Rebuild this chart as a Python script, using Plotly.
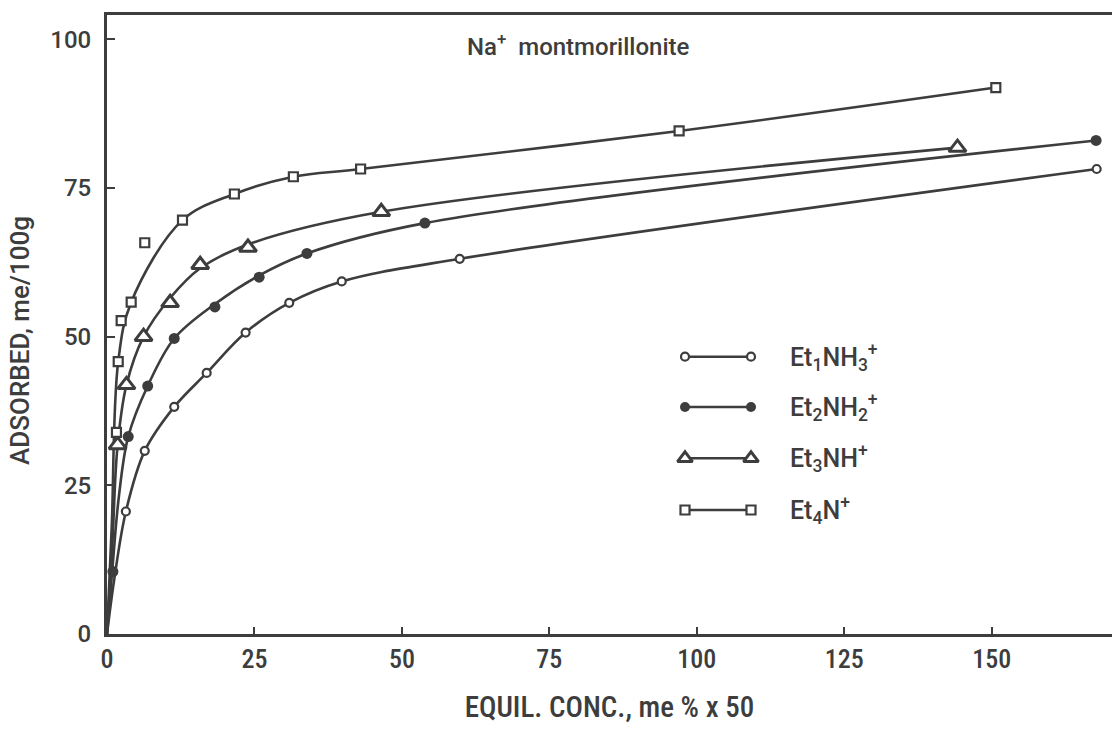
import plotly.graph_objects as go

# ---- data ----
et1_x = [3.2, 6.4, 11.4, 16.9, 23.5, 30.9, 39.8, 59.8, 167.8]
et1_y = [20.6, 30.8, 38.2, 43.9, 50.7, 55.7, 59.3, 63.1, 78.2]

et2_x = [1.0, 3.6, 6.9, 11.4, 18.3, 25.8, 33.9, 53.9, 167.7]
et2_y = [10.5, 33.2, 41.7, 49.7, 55.0, 60.0, 64.0, 69.1, 83.0]

et3_x = [1.8, 3.3, 6.2, 10.7, 15.8, 23.9, 46.5, 144.2]
et3_y = [31.8, 41.9, 50.0, 55.7, 62.1, 65.0, 71.0, 81.8]

et4_x = [1.6, 1.9, 2.4, 4.1, 6.4, 12.8, 21.6, 31.6, 43.0, 97.0, 150.7]
et4_y = [33.9, 45.8, 52.7, 55.8, 65.8, 69.6, 74.0, 76.9, 78.2, 84.6, 91.9]

# smooth hand-drawn curves (knots)
et1_cx = [0, 1.2, 3.2, 6.4, 11.4, 16.9, 23.5, 30.9, 39.8, 59.8, 167.8]
et1_cy = [0, 9.0, 20.6, 30.8, 38.2, 43.9, 50.7, 55.7, 59.3, 63.1, 78.2]
et2_cx = [0, 1.0, 2.0, 3.6, 6.9, 11.4, 18.3, 25.8, 33.9, 53.9, 167.7]
et2_cy = [0, 12.0, 23.0, 33.2, 41.7, 49.7, 55.5, 60.3, 64.0, 69.1, 83.0]
et3_cx = [0, 0.9, 1.8, 3.3, 6.2, 10.7, 15.8, 23.9, 46.5, 144.2]
et3_cy = [0, 15.0, 31.8, 41.9, 50.0, 56.5, 61.5, 65.5, 71.0, 81.8]
et4_cx = [0, 0.8, 1.9, 4.1, 12.8, 21.6, 31.6, 43.0, 97.0, 150.7]
et4_cy = [0, 18.0, 45.8, 55.8, 69.6, 74.0, 76.9, 78.2, 84.6, 91.9]

x_ticks = [0, 25, 50, 75, 100, 125, 150]
y_ticks = [0, 25, 50, 75, 100]

legend_labels = ["Et<sub>1</sub>NH<sub>3</sub><sup>+</sup>",
                 "Et<sub>2</sub>NH<sub>2</sub><sup>+</sup>",
                 "Et<sub>3</sub>NH<sup>+</sup>",
                 "Et<sub>4</sub>N<sup>+</sup>"]

INK = "#3d3d3d"
FONT = "Roboto, DejaVu Sans"
NARROW = "Roboto Condensed, DejaVu Sans Condensed, Liberation Sans Narrow, Roboto"

styles = [
    dict(symbol="circle-open", size=8, line=dict(width=2.2, color=INK), color=INK),
    dict(symbol="circle", size=11, line=dict(width=0, color=INK), color=INK),
    dict(symbol="triangle-up-open", size=15, line=dict(width=3, color=INK), color=INK),
    dict(symbol="square-open", size=9, line=dict(width=2.2, color=INK), color=INK),
]

series = [
    (et1_x, et1_y, et1_cx, et1_cy),
    (et2_x, et2_y, et2_cx, et2_cy),
    (et3_x, et3_y, et3_cx, et3_cy),
    (et4_x, et4_y, et4_cx, et4_cy),
]

fig = go.Figure()
for (mx, my, cx, cy), st in zip(series, styles):
    fig.add_trace(go.Scatter(x=cx, y=cy, mode="lines",
                             line=dict(color=INK, width=2.6, shape="spline", smoothing=1.0),
                             showlegend=False, hoverinfo="skip"))
for (mx, my, cx, cy), st in zip(series, styles):
    m = dict(st)
    if "open" in m["symbol"]:
        m["color"] = "white"
        m["symbol"] = m["symbol"].replace("-open", "")
    fig.add_trace(go.Scatter(x=mx, y=my, mode="markers", marker=m, showlegend=False))

# ---- legend drawn on an overlay axis in pixel units ----
leg_rows = [356.7, 407.0, 458.3, 510.0]
leg_x0, leg_x1, leg_tx = 685, 751, 788
for row, st, lab in zip(leg_rows, styles, legend_labels):
    m = dict(st)
    if "open" in m["symbol"]:
        m["color"] = "white"
        m["symbol"] = m["symbol"].replace("-open", "")
    if m["symbol"] == "triangle-up":
        m["size"] = 13
    if m["symbol"] == "circle" and st["size"] == 11:
        m["size"] = 10
    fig.add_trace(go.Scatter(x=[leg_x0, leg_x1], y=[row, row], mode="lines+markers",
                             line=dict(color=INK, width=2.4), marker=m,
                             xaxis="x2", yaxis="y2", showlegend=False, hoverinfo="skip"))
    fig.add_annotation(x=leg_tx, y=row, xref="x2", yref="y2", text=lab, showarrow=False,
                       xanchor="left", yanchor="middle",
                       font=dict(family=FONT, size=25, color=INK, weight=500))

fig.add_annotation(x=465, y=45, xref="x2", yref="y2",
                   text="Na<sup>+</sup>  montmorillonite", showarrow=False,
                   xanchor="left", yanchor="middle",
                   font=dict(family=FONT, size=24, color=INK, weight=500))

# y-axis title placed where the reference has it (paper coordinates)
fig.add_annotation(x=-0.0866, y=0.475, xref="paper", yref="paper", text="ADSORBED, me/100g",
                   showarrow=False, textangle=-90, xanchor="center", yanchor="middle",
                   font=dict(family=FONT, size=26, color=INK, weight=500))

fig.update_layout(
    width=1112, height=729,
    margin=dict(l=107, r=0, t=15, b=95),
    paper_bgcolor="white", plot_bgcolor="white",
    xaxis=dict(range=[0, 170.4], tickvals=x_ticks, ticktext=[str(v) for v in x_ticks],
               showgrid=False, zeroline=False, showline=True, linecolor=INK, linewidth=3,
               mirror=True, ticks="inside", ticklen=7, tickwidth=2, tickcolor=INK,
               tickfont=dict(family=NARROW, size=26, color=INK, weight=500),
               title=dict(text="EQUIL. CONC., me % x 50", standoff=24,
                          font=dict(family=NARROW, size=29, color=INK, weight=500))),
    yaxis=dict(range=[0, 104.1], tickvals=y_ticks, ticktext=[str(v) for v in y_ticks],
               showgrid=False, zeroline=False, showline=True, linecolor=INK, linewidth=3,
               mirror=False, ticks="inside", ticklen=8, tickwidth=2, tickcolor=INK,
               ticklabelstandoff=8,
               tickfont=dict(family=FONT, size=24, color=INK, weight=500)),
    xaxis2=dict(range=[107, 1112], overlaying="x", visible=False, fixedrange=True),
    yaxis2=dict(range=[634, 15], overlaying="y", visible=False, fixedrange=True),
)

fig.write_html("out.html")
